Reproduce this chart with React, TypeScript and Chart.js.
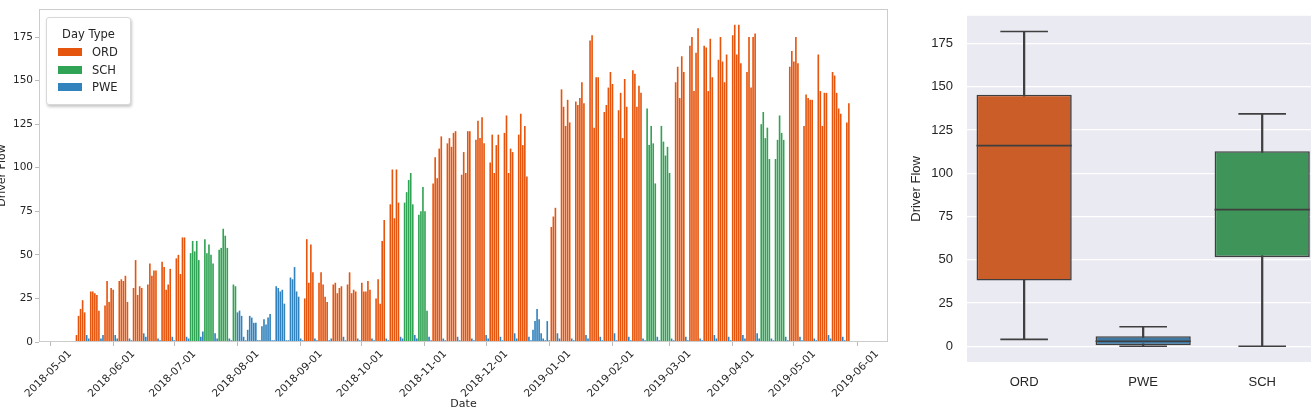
import React, { useEffect, useRef } from 'react';
import { Chart, registerables } from 'chart.js';

Chart.register(...registerables);

// ---------------- Data: daily driver flow (weeks start on Monday) ----------------
const AXIS_ORIGIN = '2018-05-01';
const START_DATE = '2018-05-14';

// O = ORD, S = SCH, P = PWE  (Mon..Sun)
const WEEK_TYPES: string[] = [
  'OOOOOPP', 'OOOOOPP', 'OOOOOPP', 'OOOOOPP', 'OOOOOPP', 'OOOOOPP', 'OOOOOPP', 'OOOOOPP', // May 14 - Jul 2
  'SSSSSPP', 'SSSSSPP', 'SSSSSPP', 'SSPPPPP', // Jul 9 - Jul 30
  'PPPPPPP', 'PPPPPPP', 'PPPPPPP', 'PPPPPPP', // Aug 6 - Aug 27
  'OOOOOPP', 'OOOOOPP', 'OOOOOPP', 'OOOOOPP', 'OOOOOPP', 'OOOOOPP', 'OOOOOPP', // Sep 3 - Oct 15
  'SSSSSPP', 'SSSSSPP', // Oct 22 - Oct 29
  'OOOOOPP', 'OOOOOPP', 'OOOOOPP', 'OOOOOPP', 'OOOOOPP', 'OOOOOPP', 'OOOOOPP', // Nov 5 - Dec 17
  'PPPPPPP', 'PPOOOPP', // Dec 24 - Dec 31
  'OOOOOPP', 'OOOOOPP', 'OOOOOPP', 'OOOOOPP', 'OOOOOPP', 'OOOOOPP', // Jan 7 - Feb 11
  'SSSSSPP', 'SSSSSPP', // Feb 18 - Feb 25
  'OOOOOPP', 'OOOOOPP', 'OOOOOPP', 'OOOOOPP', 'OOOOOPP', 'OOOOOPP', // Mar 4 - Apr 8
  'SSSSSPP', 'SSSSSPP', // Apr 15 - Apr 22
  'OOOOOPP', 'OOOOOPP', 'OOOOOPP', 'OOOOOPP', // Apr 29 - May 20
  'OO', // May 27
];

const WEEK_FLOW: number[][] = [
  [4, 15, 19, 24, 17, 4, 2],
  [29, 29, 28, 27, 18, 2, 4],
  [21, 35, 23, 31, 30, 4, 2],
  [35, 36, 35, 38, 23, 2, 1],
  [31, 47, 27, 32, 31, 5, 3],
  [33, 45, 38, 41, 41, 2, 1],
  [46, 43, 30, 33, 42, 3, 1],
  [48, 50, 39, 60, 60, 3, 2],
  [51, 58, 52, 58, 47, 3, 6],
  [59, 51, 56, 50, 45, 5, 2],
  [53, 54, 65, 61, 54, 2, 1],
  [33, 32, 17, 18, 15, 3, 1],
  [7, 15, 14, 11, 11, 1, 1],
  [9, 13, 10, 14, 16, 1, 1],
  [32, 31, 29, 30, 22, 1, 1],
  [37, 36, 43, 29, 26, 2, 1],
  [25, 59, 34, 56, 40, 2, 1],
  [34, 40, 33, 26, 23, 1, 2],
  [33, 34, 28, 31, 32, 3, 1],
  [33, 40, 28, 30, 29, 2, 1],
  [34, 29, 29, 35, 30, 2, 1],
  [25, 36, 22, 58, 70, 2, 1],
  [79, 99, 71, 99, 80, 3, 2],
  [80, 86, 93, 97, 79, 4, 2],
  [73, 75, 89, 75, 18, 3, 1],
  [91, 106, 94, 111, 118, 2, 1],
  [114, 117, 112, 120, 121, 3, 1],
  [96, 109, 97, 121, 121, 2, 1],
  [116, 127, 117, 129, 114, 4, 2],
  [103, 119, 97, 113, 119, 3, 1],
  [120, 130, 97, 111, 109, 5, 2],
  [119, 131, 113, 124, 95, 3, 1],
  [7, 12, 19, 13, 5, 2, 1],
  [12, 1, 66, 72, 77, 5, 2],
  [145, 135, 124, 139, 126, 2, 1],
  [138, 136, 140, 149, 137, 4, 2],
  [173, 176, 123, 152, 152, 3, 1],
  [132, 136, 146, 155, 148, 5, 1],
  [133, 143, 117, 151, 135, 3, 1],
  [156, 154, 135, 147, 143, 2, 1],
  [134, 113, 124, 114, 91, 3, 1],
  [124, 115, 107, 112, 97, 2, 1],
  [149, 158, 140, 164, 155, 3, 1],
  [170, 175, 144, 166, 180, 2, 1],
  [170, 169, 144, 174, 152, 4, 2],
  [162, 175, 161, 149, 165, 3, 1],
  [176, 182, 165, 182, 160, 4, 2],
  [155, 175, 146, 175, 177, 5, 2],
  [125, 132, 117, 123, 105, 2, 1],
  [105, 116, 130, 120, 116, 3, 1],
  [158, 167, 161, 175, 160, 3, 1],
  [124, 142, 140, 139, 139, 2, 1],
  [165, 144, 124, 143, 143, 4, 2],
  [155, 153, 143, 134, 131, 3, 1],
  [126, 137],
];

const DAY_TYPE_CODES = ['O', 'S', 'P'];
const DAY_TYPE_NAMES = ['ORD', 'SCH', 'PWE'];
const DAY_TYPE_COLORS = ['#e6550d', '#31a354', '#3182bd'];

const MONTH_TICKS = [
  '2018-05-01', '2018-06-01', '2018-07-01', '2018-08-01', '2018-09-01', '2018-10-01', '2018-11-01',
  '2018-12-01', '2019-01-01', '2019-02-01', '2019-03-01', '2019-04-01', '2019-05-01', '2019-06-01',
];
const FLOW_TICKS = [0, 25, 50, 75, 100, 125, 150, 175];
const DATE_AXIS_MIN = -5.4;
const DATE_AXIS_MAX = 411.2;
const FLOW_AXIS_MAX = 191.1;

// ---------------- Box plot summary ----------------
const BOX_CATEGORIES = ['ORD', 'PWE', 'SCH'];
const BOX_MIN = [4, 0, 0];
const BOX_Q1 = [38, 0.6, 51.5];
const BOX_MEDIAN = [116, 2.9, 79];
const BOX_Q3 = [145.5, 5.8, 112.8];
const BOX_MAX = [182, 11.3, 134.4];
const BOX_COLORS = ['#cb5e28', '#3f78a2', '#3f9559'];
const BOX_LINE = '#3f3f3f';
const BOX_AXIS_MIN = -9.1;
const BOX_CAT_MIN = -0.48;
const BOX_CAT_MAX = 2.41;

const dayNum = (s: string) => Math.round((Date.parse(s) - Date.parse(AXIS_ORIGIN)) / 86400000);

function buildSeries() {
  const start = dayNum(START_DATE);
  const out: Record<string, { x: number; y: number }[]> = { O: [], S: [], P: [] };
  WEEK_TYPES.forEach((t, k) => {
    for (let i = 0; i < t.length; i++) {
      out[t[i]].push({ x: start + 7 * k + i, y: WEEK_FLOW[k][i] });
    }
  });
  return out;
}

const TEXT = '#262626';

export default function App() {
  const leftRef = useRef<HTMLCanvasElement>(null);
  const rightRef = useRef<HTMLCanvasElement>(null);

  useEffect(() => {
    const series = buildSeries();
    const framePlugin = {
      id: 'frame',
      afterDatasetsDraw(chart: any) {
        const { ctx, chartArea: a } = chart;
        ctx.save();
        ctx.strokeStyle = '#cccccc';
        ctx.lineWidth = 1;
        ctx.strokeRect(a.left + 0.5, a.top + 0.5, a.right - a.left - 1, a.bottom - a.top - 1);
        ctx.restore();
      },
    };
    // rotated date labels centred on their ticks (matplotlib rotation=45, ha='center')
    const dateLabelPlugin = {
      id: 'dateLabels',
      afterDraw(chart: any) {
        const s = chart.scales.x;
        const ctx = chart.ctx;
        ctx.save();
        ctx.font = '10.5px "DejaVu Sans"';
        ctx.fillStyle = TEXT;
        ctx.textAlign = 'center';
        ctx.textBaseline = 'middle';
        MONTH_TICKS.forEach((m) => {
          const x = s.getPixelForValue(dayNum(m));
          ctx.save();
          ctx.translate(x - 1.5, s.top + 32);
          ctx.rotate(-Math.PI / 4);
          ctx.fillText(m, 0, 0);
          ctx.restore();
        });
        ctx.restore();
      },
    };

    const left = new Chart(leftRef.current!, {
      type: 'bar',
      data: {
        datasets: DAY_TYPE_CODES.map((c, i) => ({
          label: DAY_TYPE_NAMES[i],
          data: series[c],
          backgroundColor: DAY_TYPE_COLORS[i],
          borderWidth: 0,
          grouped: false,
          barPercentage: 1,
          categoryPercentage: 0.8,
        })) as any,
      },
      options: {
        animation: false,
        responsive: false,
        layout: { autoPadding: false, padding: { top: 9, right: 12, left: 0, bottom: 0 } },
        plugins: { legend: { display: false }, tooltip: { enabled: false } },
        scales: {
          x: {
            type: 'linear',
            min: DATE_AXIS_MIN,
            max: DATE_AXIS_MAX,
            offset: false,
            grid: { display: true, drawOnChartArea: false, drawTicks: true, tickLength: 4, color: '#bbbbbb', offset: false },
            border: { display: false },
            ticks: { display: false, autoSkip: false },
            afterBuildTicks: (s: any) => {
              s.ticks = MONTH_TICKS.map((d) => ({ value: dayNum(d) }));
            },
            afterFit: (s: any) => {
              s.height = 74;
            },
            title: {
              display: true,
              text: 'Date',
              color: TEXT,
              font: { family: 'DejaVu Sans', size: 11 },
              padding: { top: 0, bottom: 5 },
            },
          } as any,
          y: {
            min: 0,
            max: FLOW_AXIS_MAX,
            grid: { display: true, drawOnChartArea: false, drawTicks: true, tickLength: 4, color: '#bbbbbb' },
            border: { display: false },
            ticks: { padding: 2, color: TEXT, font: { family: 'DejaVu Sans', size: 10.5 } },
            afterBuildTicks: (s: any) => {
              s.ticks = FLOW_TICKS.map((v) => ({ value: v }));
            },
            afterFit: (s: any) => {
              s.width = 39;
            },
            title: {
              display: true,
              text: 'Driver Flow',
              color: TEXT,
              font: { family: 'DejaVu Sans', size: 11 },
              padding: { top: -4, bottom: 0 },
            },
          } as any,
        },
      },
      plugins: [framePlugin, dateLabelPlugin],
    });

    const bgPlugin = {
      id: 'bg',
      beforeDraw(chart: any) {
        const { ctx, chartArea: a } = chart;
        ctx.save();
        ctx.fillStyle = '#eaeaf2';
        ctx.fillRect(a.left, a.top, a.right - a.left, a.bottom - a.top);
        ctx.restore();
      },
    };

    const idx = BOX_CATEGORIES.map((_, i) => i);
    const right = new Chart(rightRef.current!, {
      type: 'bar',
      data: {
        datasets: [
          {
            type: 'bar',
            data: idx.map((i) => ({ x: i, y: [BOX_MIN[i], BOX_MAX[i]] })),
            backgroundColor: BOX_LINE,
            barThickness: 1.6,
            grouped: false,
            order: 3,
          },
          {
            type: 'bar',
            data: idx.map((i) => ({ x: i, y: [BOX_Q1[i], BOX_Q3[i]] })),
            backgroundColor: BOX_COLORS,
            borderColor: BOX_LINE,
            borderWidth: 1.6,
            borderSkipped: false,
            grouped: false,
            barPercentage: 1,
            categoryPercentage: 0.8,
            order: 2,
          },
          {
            type: 'scatter',
            data: idx.flatMap((i) => [{ x: i, y: BOX_MIN[i] }, { x: i, y: BOX_MAX[i] }]),
            pointStyle: 'line',
            pointRadius: 23.8,
            pointBorderColor: BOX_LINE,
            pointBackgroundColor: BOX_LINE,
            pointBorderWidth: 1.6,
            clip: false,
            order: 1,
          },
          {
            type: 'scatter',
            data: idx.map((i) => ({ x: i, y: BOX_MEDIAN[i] })),
            pointStyle: 'line',
            pointRadius: 47.6,
            pointBorderColor: BOX_LINE,
            pointBackgroundColor: BOX_LINE,
            pointBorderWidth: 1.6,
            clip: false,
            order: 0,
          },
        ] as any,
      },
      options: {
        animation: false,
        responsive: false,
        layout: { autoPadding: false, padding: { top: 16, right: 0, left: 0, bottom: 0 } },
        plugins: { legend: { display: false }, tooltip: { enabled: false } },
        scales: {
          x: {
            type: 'linear',
            min: BOX_CAT_MIN,
            max: BOX_CAT_MAX,
            offset: false,
            grid: { display: false, drawTicks: false, offset: false },
            border: { display: false },
            ticks: {
              padding: 13,
              color: TEXT,
              font: { family: 'Liberation Sans', size: 13 },
              callback: (v: any) => BOX_CATEGORIES[v] ?? '',
            },
            afterBuildTicks: (s: any) => {
              s.ticks = idx.map((i) => ({ value: i }));
            },
            afterFit: (s: any) => {
              s.height = 54;
            },
          } as any,
          y: {
            min: BOX_AXIS_MIN,
            max: FLOW_AXIS_MAX,
            grid: { display: true, drawTicks: false, color: '#ffffff', lineWidth: 1.3 },
            border: { display: false },
            ticks: { padding: 14, color: TEXT, font: { family: 'Liberation Sans', size: 13 } },
            afterBuildTicks: (s: any) => {
              s.ticks = FLOW_TICKS.map((v) => ({ value: v }));
            },
            afterFit: (s: any) => {
              s.width = 67;
            },
            title: {
              display: true,
              text: 'Driver Flow',
              color: TEXT,
              font: { family: 'Liberation Sans', size: 13 },
              padding: { top: 9, bottom: 0 },
            },
          } as any,
        },
      },
      plugins: [bgPlugin],
    });

    return () => {
      left.destroy();
      right.destroy();
    };
  }, []);

  const rowTops = [27, 45, 62];
  return (
    <div style={{ position: 'absolute', left: 0, top: 0, width: 1311, height: 416, background: '#fff', overflow: 'hidden' }}>
      <canvas ref={leftRef} width={900} height={416} style={{ position: 'absolute', left: 0, top: 0 }} />
      <canvas ref={rightRef} width={411} height={422} style={{ position: 'absolute', left: 900, top: -6 }} />
      <div
        style={{
          position: 'absolute', left: 46, top: 17, width: 85, height: 88, boxSizing: 'border-box',
          border: '1px solid #d8d8d8', borderRadius: 3, boxShadow: '1px 2px 3px rgba(0,0,0,0.22)',
          background: '#fff', fontFamily: 'DejaVu Sans', fontSize: 11.5, color: TEXT,
        }}
      >
        <div style={{ position: 'absolute', top: 9, left: 0, width: '100%', textAlign: 'center', lineHeight: '14px' }}>Day Type</div>
        {DAY_TYPE_NAMES.map((n, i) => (
          <div key={n} style={{ position: 'absolute', left: 10, top: rowTops[i], height: 14, lineHeight: '14px' }}>
            <span style={{ position: 'absolute', left: 1, top: 3, width: 24, height: 8, background: DAY_TYPE_COLORS[i] }} />
            <span style={{ position: 'absolute', left: 35 }}>{n}</span>
          </div>
        ))}
      </div>
    </div>
  );
}
